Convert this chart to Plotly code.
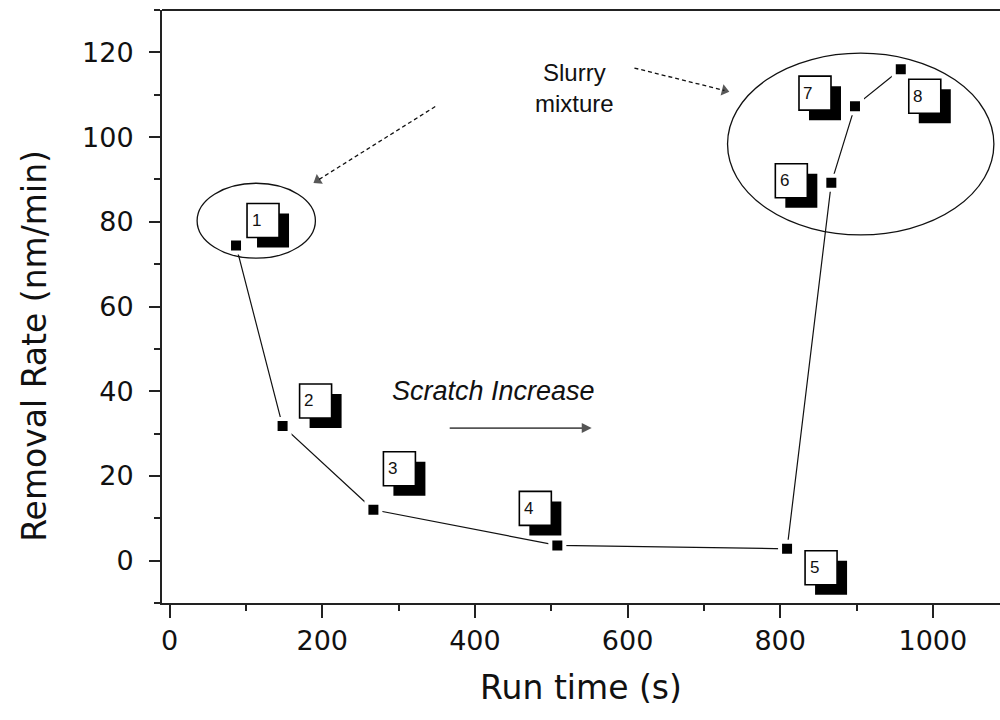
import plotly.graph_objects as go

# Removal rate measured over the run
run_time = [87, 148, 267, 508, 809, 867, 898, 958]
removal_rate = [74.4, 31.8, 12.0, 3.6, 2.8, 89.2, 107.3, 116.0]
point_labels = ["1", "2", "3", "4", "5", "6", "7", "8"]

# Pixel offsets (right, up) of each numbered tag's centre from its point
tag_dx = [27, 33, 26, -22, 34, -40, -40, 24]
tag_dy = [25, 25, 41, 37, -19, 2, 13, -27]
TAG_W, TAG_H, SHADOW = 32, 34, 10

FONT = "Arial, Liberation Sans, sans-serif"
AXIS_FONT = "DejaVu Sans, Arial, sans-serif"
INK = "#111111"

fig = go.Figure()

# Dashed pointers from the "Slurry mixture" note to the circled groups
pointer_left_x, pointer_left_y = [348, 194], [107.2, 89.8]
pointer_right_x, pointer_right_y = [609, 727], [116.3, 111.0]
for px, py in [(pointer_left_x, pointer_left_y), (pointer_right_x, pointer_right_y)]:
    fig.add_trace(go.Scatter(
        x=px, y=py, mode="lines+markers", hoverinfo="skip", showlegend=False,
        line=dict(color=INK, width=1.3, dash="4px,3px"),
        marker=dict(symbol=["circle", "triangle-up"], size=[0, 10],
                    angleref="previous", color=INK, line=dict(width=0)),
    ))

# Main series: thin line with square markers (white rim leaves a gap at each joint)
fig.add_trace(go.Scatter(
    x=run_time, y=removal_rate, mode="lines+markers", showlegend=False,
    line=dict(color=INK, width=1.2),
    marker=dict(symbol="square", size=14, color="black",
                line=dict(color="white", width=4)),
))

shapes = []
annotations = []

# Numbered tags with drop shadows
for x, y, lab, dx, dy in zip(run_time, removal_rate, point_labels, tag_dx, tag_dy):
    common = dict(xref="x", yref="y", xsizemode="pixel", ysizemode="pixel",
                  xanchor=x, yanchor=y, layer="above")
    shapes.append(dict(type="rect", **common,
                       x0=dx - TAG_W / 2 + SHADOW, x1=dx + TAG_W / 2 + SHADOW,
                       y0=dy - TAG_H / 2 - SHADOW, y1=dy + TAG_H / 2 - SHADOW,
                       fillcolor="black", line=dict(width=0)))
    shapes.append(dict(type="rect", **common,
                       x0=dx - TAG_W / 2, x1=dx + TAG_W / 2,
                       y0=dy - TAG_H / 2, y1=dy + TAG_H / 2,
                       fillcolor="white", line=dict(color="black", width=1.6)))
    annotations.append(dict(x=x, y=y, xref="x", yref="y", text=lab, showarrow=False,
                            xshift=dx - 7, yshift=dy,
                            font=dict(family=FONT, size=17, color=INK)))

# Ellipses around the slurry-mixture runs
shapes.append(dict(type="circle", xref="x", yref="y", x0=36, x1=191, y0=71.4, y1=89.1,
                   line=dict(color=INK, width=1.3)))
shapes.append(dict(type="circle", xref="x", yref="y", x0=731, x1=1080, y0=76.9, y1=119.8,
                   line=dict(color=INK, width=1.3)))

# Top frame line
shapes.append(dict(type="line", xref="paper", yref="paper", x0=0, x1=1, y0=1, y1=1,
                   line=dict(color="#222222", width=2)))

annotations.append(dict(x=530, y=111.5, xref="x", yref="y", text="Slurry<br>mixture",
                        showarrow=False, align="center",
                        font=dict(family=FONT, size=24, color=INK)))
annotations.append(dict(x=425, y=40, xref="x", yref="y", text="<i>Scratch Increase</i>",
                        showarrow=False, font=dict(family=FONT, size=27, color=INK)))
annotations.append(dict(x=553, y=31.3, ax=365, ay=31.3, xref="x", yref="y",
                        axref="x", ayref="y", text="", showarrow=True,
                        arrowhead=2, arrowsize=1.1, arrowwidth=1.8, arrowcolor="#555555"))

# Vertical axis title, placed slightly below the plot's mid-height
annotations.append(dict(x=-0.152, y=0.433, xref="paper", yref="paper",
                        text="Removal Rate (nm/min)", textangle=-90, showarrow=False,
                        xanchor="center", yanchor="middle",
                        font=dict(family=AXIS_FONT, size=33, color=INK)))

fig.update_layout(
    width=1000, height=720,
    margin=dict(l=162, r=0, t=10, b=117),
    paper_bgcolor="white", plot_bgcolor="white",
    shapes=shapes, annotations=annotations,
    font=dict(family=AXIS_FONT, color=INK),
    xaxis=dict(
        range=[-10, 1088], tickvals=[0, 200, 400, 600, 800, 1000],
        ticks="outside", ticklen=13, tickwidth=1.5, tickcolor="#222222",
        minor=dict(ticks="outside", ticklen=6, tickwidth=1.5, tickcolor="#222222", dtick=100, tick0=0),
        showline=True, linecolor="#222222", linewidth=2, showgrid=False, zeroline=False,
        tickfont=dict(size=27), title=dict(text="Run time (s)", font=dict(size=33), standoff=20),
    ),
    yaxis=dict(
        range=[-10, 130], tickvals=[0, 20, 40, 60, 80, 100, 120],
        ticks="outside", ticklen=11, tickwidth=1.5, tickcolor="#222222",
        minor=dict(ticks="outside", ticklen=6, tickwidth=1.5, tickcolor="#222222", dtick=10, tick0=0),
        showline=True, linecolor="#222222", linewidth=2, showgrid=False, zeroline=False,
        ticklabelstandoff=10, tickfont=dict(size=27),
    ),
)

fig.write_html("out.html")
